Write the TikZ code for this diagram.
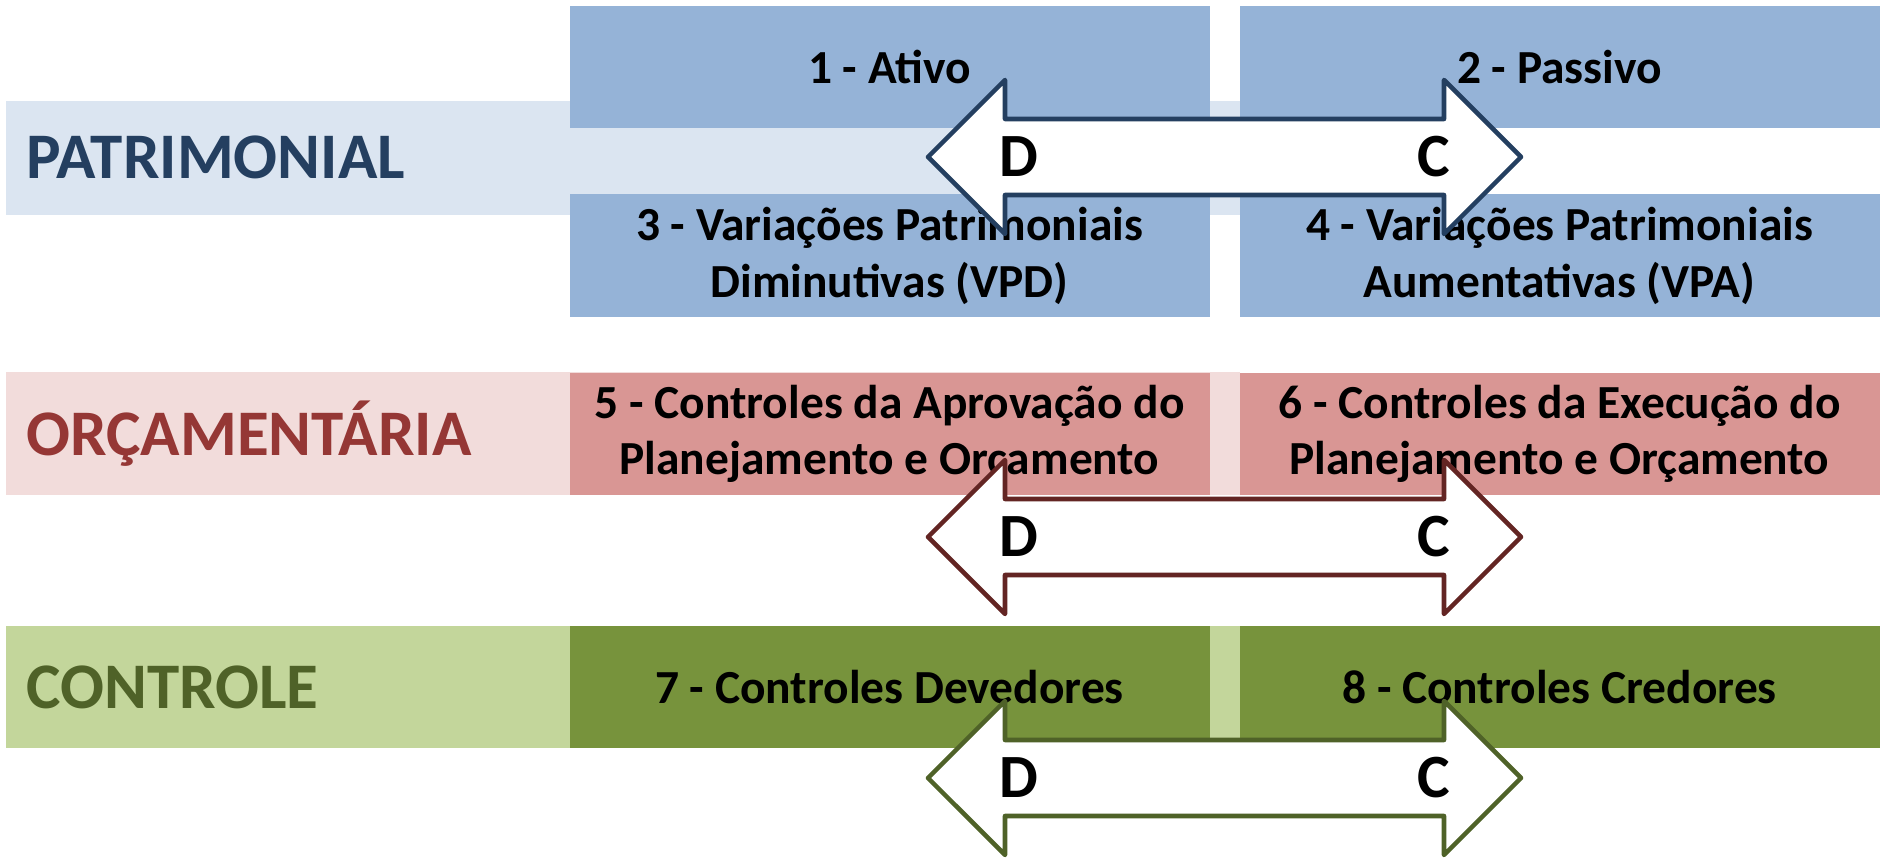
\documentclass[tikz,border=0pt]{standalone}
\usepackage{fontspec}
\setmainfont{Carlito}
\usepackage{xcolor}
\usepackage{tikz}

\definecolor{faixaazul}{HTML}{DBE5F1}
\definecolor{contaazul}{HTML}{95B3D7}
\definecolor{textoazul}{HTML}{243F60}
\definecolor{faixavermelha}{HTML}{F2DCDB}
\definecolor{contavermelha}{HTML}{D99694}
\definecolor{textovermelho}{HTML}{953735}
\definecolor{setavermelha}{HTML}{632523}
\definecolor{faixaverde}{HTML}{C3D69B}
\definecolor{contaverde}{HTML}{77933C}
\definecolor{textoverde}{HTML}{4F6228}

\begin{document}
\begin{tikzpicture}[
    faixa/.style={rectangle, minimum width=24.68cm, inner sep=0, anchor=west},
    conta/.style={rectangle, minimum width=12.8cm, minimum height=2.44cm, align=center, inner sep=0, font=\bfseries\fontsize{27}{32}\selectfont},
    rotulo/.style={anchor=base west, inner sep=0, font=\bfseries\fontsize{37}{40}\selectfont},
    seta/.style={fill=white, line width=2.6pt, line join=round},
    letra/.style={inner sep=0, font=\bfseries\fontsize{35}{38}\selectfont}
]
    \useasboundingbox (0,0) rectangle (37.66,17.3);

    \node[faixa, fill=faixaazul, minimum height=2.28cm] (fpat) at (0.12,14.14) {};
    \node[faixa, fill=faixavermelha, minimum height=2.46cm] (forc) at (0.12,8.63) {};
    \node[faixa, fill=faixaverde, minimum height=2.44cm] (fcon) at (0.12,3.56) {};

    \node[rotulo, text=textoazul] (lpat) at (0.52,13.72) {PATRIMONIAL};
    \node[rotulo, text=textovermelho] (lorc) at (0.52,8.18) {ORÇAMENTÁRIA};
    \node[rotulo, text=textoverde] (lcon) at (0.52,3.12) {CONTROLE};

    \node[conta, fill=contaazul] (c1) at (17.79,15.96) {1 - Ativo};
    \node[conta, fill=contaazul] (c2) at (31.19,15.96) {2 - Passivo};
    \node[conta, fill=contaazul, minimum height=2.46cm] (c3) at (17.79,12.18) {3 - Variações Patrimoniais\\Diminutivas (VPD)};
    \node[conta, fill=contaazul, minimum height=2.46cm] (c4) at (31.19,12.18) {4 - Variações Patrimoniais\\Aumentativas (VPA)};
    \node[conta, fill=contavermelha] (c5) at (17.79,8.62) {5 - Controles da Aprovação do\\Planejamento e Orçamento};
    \node[conta, fill=contavermelha] (c6) at (31.19,8.62) {6 - Controles da Execução do\\Planejamento e Orçamento};
    \node[conta, fill=contaverde] (c7) at (17.79,3.56) {7 - Controles Devedores};
    \node[conta, fill=contaverde] (c8) at (31.19,3.56) {8 - Controles Credores};

    \foreach \i/\y/\cor in {1/14.16/textoazul, 2/6.56/setavermelha, 3/1.74/textoverde} {
        \draw[seta, draw=\cor, shift={(0,\y)}] (18.56,0) -- (20.10,1.54) -- (20.10,0.76) -- (28.88,0.76) -- (28.88,1.54) -- (30.42,0)
            -- (28.88,-1.54) -- (28.88,-0.76) -- (20.10,-0.76) -- (20.10,-1.54) -- cycle;
        \node[letra, anchor=west] (d\i) at (19.98,\y) {D};
        \node[letra, anchor=east] (k\i) at (29.0,\y) {C};
    }
\end{tikzpicture}
\end{document}
